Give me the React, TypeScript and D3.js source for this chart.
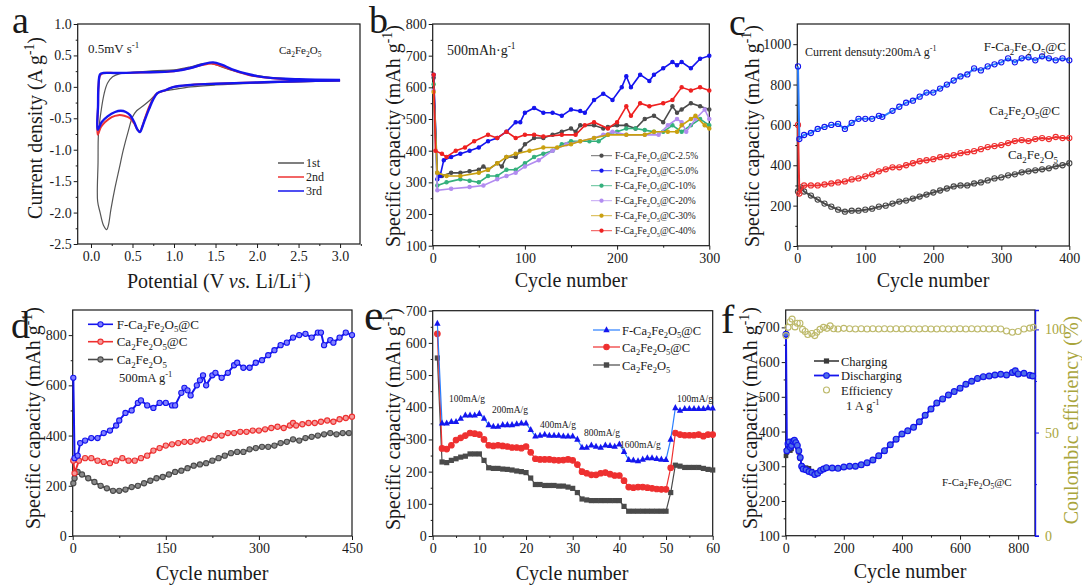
import { useEffect, useRef } from "react";
import * as d3 from "d3";

const serif = "'Liberation Serif', 'Times New Roman', serif";
const INK = "#1a1a1a";

// ---------- a: CV curves [potential V, current A/g]
const cv1st = [[3.0,0.1],[2.5,0.08],[2.0,0.06],[1.5,0.03],[1.2,0.0],[1.0,-0.04],[0.9,-0.06],[0.8,-0.1],[0.72,-0.2],[0.63,-0.3],[0.55,-0.38],[0.5,-0.48],[0.45,-0.7],[0.39,-1.0],[0.34,-1.3],[0.29,-1.6],[0.24,-1.95],[0.21,-2.2],[0.19,-2.27],[0.15,-2.2],[0.11,-2.0],[0.08,-1.82],
  [0.085,-1.2],[0.09,-0.75],[0.12,-0.4],[0.16,-0.1],[0.2,0.06],[0.26,0.16],[0.35,0.21],[0.5,0.23],[0.8,0.26],[1.0,0.27],[1.2,0.32],[1.35,0.37],[1.45,0.37],[1.55,0.33],[1.7,0.26],[1.9,0.2],[2.1,0.16],[2.5,0.12],[3.0,0.1]];
const cv2nd = [[3.0,0.1],[2.5,0.09],[2.0,0.07],[1.5,0.05],[1.2,0.03],[1.0,0.0],[0.9,-0.05],[0.8,-0.1],[0.75,-0.18],[0.7,-0.32],[0.65,-0.5],[0.62,-0.62],[0.59,-0.71],[0.56,-0.68],[0.52,-0.58],[0.47,-0.5],[0.4,-0.46],[0.33,-0.45],[0.25,-0.48],[0.17,-0.56],[0.12,-0.64],[0.08,-0.76],
  [0.085,-0.3],[0.09,0.0],[0.11,0.18],[0.15,0.22],[0.3,0.22],[0.6,0.23],[1.0,0.25],[1.2,0.3],[1.35,0.35],[1.45,0.37],[1.55,0.34],[1.7,0.27],[1.9,0.19],[2.1,0.15],[2.5,0.11],[3.0,0.1]];
const cv3rd = [[3.0,0.1],[2.5,0.09],[2.0,0.07],[1.5,0.05],[1.2,0.03],[1.0,0.0],[0.9,-0.05],[0.8,-0.1],[0.75,-0.2],[0.7,-0.35],[0.65,-0.52],[0.62,-0.63],[0.59,-0.72],[0.56,-0.68],[0.52,-0.56],[0.47,-0.45],[0.42,-0.4],[0.36,-0.38],[0.29,-0.4],[0.2,-0.47],[0.13,-0.56],[0.08,-0.68],
  [0.085,-0.3],[0.09,0.0],[0.11,0.2],[0.15,0.22],[0.3,0.22],[0.6,0.23],[1.0,0.25],[1.2,0.3],[1.35,0.36],[1.47,0.39],[1.58,0.35],[1.7,0.28],[1.9,0.2],[2.1,0.15],[2.5,0.12],[3.0,0.11]];

// ---------- b: carbon content, 500 mA/g [cycle, mAh/g]
const b25 = [[1,630],[5,330],[10,320],[20,330],[30,330],[40,335],[50,340],[55,350],[60,340],[70,360],[75,350],[80,380],[90,380],[95,400],[100,420],[110,440],[120,440],[130,450],[140,460],[150,470],[155,460],[160,480],[175,480],[185,470],[190,475],[200,480],[210,480],[220,470],[230,500],[240,510],[250,490],[260,540],[265,520],[270,530],[280,550],[290,540],[300,530]];
const b50 = [[1,640],[5,310],[8,320],[12,370],[20,380],[30,390],[40,400],[50,410],[60,430],[70,440],[80,460],[90,490],[95,490],[100,520],[110,535],[120,520],[130,520],[140,510],[150,530],[160,525],[165,520],[175,560],[185,580],[195,560],[205,600],[210,635],[215,600],[225,640],[235,620],[240,640],[250,660],[260,680],[265,670],[270,680],[280,660],[290,690],[300,700]];
const b10 = [[1,610],[5,290],[15,300],[30,310],[40,305],[50,300],[60,320],[70,320],[80,340],[90,340],[100,360],[110,380],[120,390],[130,400],[140,420],[150,430],[170,430],[180,430],[190,450],[200,460],[210,470],[220,470],[230,465],[240,460],[250,460],[260,480],[270,460],[280,480],[290,500],[300,480]];
const b20 = [[1,590],[5,275],[20,280],[40,285],[55,290],[70,310],[80,320],[90,330],[100,350],[115,370],[130,400],[145,420],[160,430],[175,440],[185,450],[195,460],[210,450],[230,450],[245,450],[255,480],[265,500],[270,490],[275,460],[285,500],[295,530],[300,500]];
const b30 = [[1,585],[5,330],[15,320],[30,320],[50,330],[60,340],[70,360],[80,380],[90,390],[105,400],[120,410],[135,410],[150,420],[160,430],[175,440],[190,450],[210,450],[230,450],[240,460],[255,460],[265,460],[270,480],[280,500],[285,510],[295,480],[300,470]];
const b40 = [[1,640],[3,400],[10,390],[15,380],[25,400],[35,410],[45,430],[60,450],[70,440],[80,460],[90,440],[100,450],[110,450],[120,445],[140,450],[155,450],[165,480],[175,490],[190,470],[200,490],[210,540],[215,510],[225,550],[235,540],[250,550],[260,560],[270,600],[280,590],[290,600],[300,590]];
const bNames = ["F-Ca_2Fe_2O_5@C-2.5%","F-Ca_2Fe_2O_5@C-5.0%","F-Ca_2Fe_2O_5@C-10%","F-Ca_2Fe_2O_5@C-20%","F-Ca_2Fe_2O_5@C-30%","F-Ca_2Fe_2O_5@C-40%"];
const bColors = ["#4a4a4a","#1414ee","#34b07c","#b28cf0","#c9a010","#ee2020"];

// ---------- c: 200 mA/g, 400 cycles
const cF = [[1,890],[3,530],[10,550],[20,560],[30,580],[40,590],[50,600],[60,605],[70,580],[80,610],[90,630],[100,630],[110,630],[120,645],[125,640],[140,670],[150,690],[160,710],[170,720],[180,740],[190,760],[200,760],[210,780],[220,800],[230,820],[240,840],[250,850],[260,880],[270,870],[280,890],[290,900],[300,910],[310,930],[320,910],[330,930],[340,935],[350,920],[360,940],[370,930],[380,920],[390,930],[400,920]];
const cC = [[1,600],[3,260],[10,300],[20,300],[30,300],[40,305],[50,310],[60,315],[70,320],[80,330],[90,335],[100,345],[110,355],[120,370],[130,380],[140,390],[150,390],[160,400],[170,410],[180,420],[190,425],[200,430],[210,440],[220,445],[230,450],[240,460],[250,465],[260,470],[270,480],[280,490],[290,495],[300,500],[310,510],[320,520],[330,525],[340,520],[350,530],[360,535],[370,530],[380,540],[390,535],[400,535]];
const cP = [[1,270],[5,290],[10,270],[20,250],[30,230],[40,210],[50,195],[60,180],[70,170],[80,175],[90,175],[100,180],[110,185],[120,195],[130,200],[140,210],[150,220],[160,225],[170,235],[180,245],[190,255],[200,265],[210,275],[220,285],[230,295],[240,300],[250,300],[260,310],[270,315],[280,325],[290,335],[300,340],[310,350],[320,355],[330,365],[340,370],[350,375],[360,380],[370,385],[380,395],[390,400],[400,410]];

// ---------- d: 500 mA/g, 450 cycles
const dF = [[1,630],[3,310],[8,320],[12,370],[20,380],[30,390],[40,390],[50,410],[60,420],[70,440],[75,460],[85,490],[95,500],[105,530],[110,540],[120,520],[130,510],[140,530],[150,530],[160,520],[165,520],[175,570],[180,590],[185,580],[190,560],[200,600],[205,620],[210,640],[215,600],[225,640],[230,650],[240,630],[250,650],[260,680],[265,690],[275,670],[285,670],[295,690],[305,700],[315,720],[325,740],[335,760],[345,770],[355,790],[365,800],[375,805],[385,790],[395,810],[400,810],[405,760],[415,780],[420,770],[430,790],[440,810],[450,800]];
const dC = [[1,300],[3,250],[10,300],[20,310],[30,310],[40,300],[50,295],[60,290],[70,300],[80,310],[90,300],[100,300],[110,310],[120,320],[130,340],[140,350],[150,360],[160,365],[170,370],[180,375],[190,375],[200,380],[210,385],[220,390],[230,400],[240,400],[250,410],[260,410],[270,415],[280,415],[290,420],[300,420],[310,425],[320,430],[330,435],[340,430],[350,440],[355,450],[360,440],[370,445],[380,450],[390,450],[400,455],[410,460],[420,455],[430,465],[440,470],[450,475]];
const dP = [[1,210],[3,230],[8,255],[15,245],[25,230],[35,215],[45,200],[55,190],[65,180],[75,180],[85,185],[95,195],[105,200],[115,210],[125,220],[135,230],[145,235],[155,245],[165,255],[175,260],[185,270],[195,280],[205,285],[215,290],[225,300],[235,310],[245,320],[255,330],[265,335],[275,335],[285,345],[295,350],[305,355],[315,355],[325,360],[335,370],[345,375],[355,385],[365,380],[375,390],[385,395],[395,400],[405,405],[415,410],[425,405],[435,410],[445,410]];

// ---------- e: rate performance, cycles 1..60
const eF = [660,350,350,355,355,365,375,375,375,380,365,345,340,340,345,345,345,348,350,350,330,310,312,315,312,312,312,310,310,310,300,275,275,282,278,275,282,280,278,285,262,237,235,233,238,242,242,240,238,237,300,398,390,395,395,395,395,395,398,397];
const eC = [628,272,270,282,298,305,312,320,318,315,300,282,280,282,280,278,275,275,273,278,260,240,238,238,238,236,235,236,238,235,222,200,195,190,190,195,197,192,188,188,172,152,150,152,152,150,148,146,145,145,212,320,315,313,313,313,315,310,315,315];
const eP = [553,230,228,235,240,245,248,255,255,255,235,212,210,210,208,207,205,202,200,197,180,160,160,157,157,157,155,155,152,148,135,115,112,110,110,110,110,110,110,110,92,77,77,77,77,77,77,77,77,77,135,220,217,213,213,213,213,210,207,205];
const eRates = [["100mA/g",449,402],["200mA/g",492,413],["400mA/g",540,428],["800mA/g",584,436],["1600mA/g",620,448],["100mA/g",677,402]];

// ---------- f: 1 A/g long cycling
const fDis = [[1,680],[4,345],[8,365],[12,370],[16,355],[20,360],[25,372],[30,375],[35,368],[40,360],[45,345],[50,325],[55,300],[60,292],[70,290],[80,285],[90,282],[100,276],[110,280],[120,288],[130,292],[140,296],[160,295],[180,294],[200,298],[220,300],[240,300],[260,304],[280,310],[300,318],[320,330],[340,345],[360,362],[380,378],[400,393],[420,402],[440,412],[460,428],[480,447],[500,465],[520,482],[540,494],[560,505],[580,515],[600,525],[620,536],[640,545],[660,553],[680,558],[700,560],[720,563],[740,565],[760,563],[780,570],[790,575],[800,566],[820,568],[840,562],[850,560]];
const fCha = [[1,330],[4,340],[8,352],[12,360],[16,345],[20,350],[25,365],[30,370],[35,362],[40,355],[45,340],[50,322],[55,302],[60,296],[70,296],[80,294],[90,286],[100,280],[110,282],[120,288],[130,292],[140,296],[160,294],[180,293],[200,297],[220,299],[240,299],[260,303],[280,309],[300,317],[320,329],[340,344],[360,361],[380,377],[400,392],[420,401],[440,411],[460,427],[480,446],[500,464],[520,481],[540,493],[560,504],[580,514],[600,524],[620,535],[640,544],[660,552],[680,557],[700,559],[720,562],[740,564],[760,562],[780,568],[790,572],[800,565],[820,566],[840,560],[850,558]];
const fEff = [[1,97],[8,101],[15,103.7],[22,105],[32,101.2],[40,103],[49,103],[58,100],[67,99],[76,97.5],[90,98],[100,97],[107,98.6],[118,100],[130,101],[142,100.5],[153,101.7],[165,100.3],[180,100.2],[200,100.5],[220,100.3],[240,100.2],[260,100.3],[280,100.2],[300,100.3],[320,100.2],[340,100.3],[360,100.2],[380,100.3],[400,100.2],[420,100.3],[440,100.2],[460,100.2],[480,100.3],[500,100.2],[520,100.2],[540,100.3],[560,100.2],[580,100.2],[600,100.3],[620,100.2],[640,100.3],[660,100.2],[680,100.3],[700,100.2],[720,100.3],[740,100.2],[760,99.2],[780,98.6],[800,99],[820,100.2],[840,100.6],[852,101]];

// "_x" / "_{..}" -> subscript, "^x" / "^{..}" -> superscript
function rich(sel, str, fs) {
  const re = /_\{([^}]*)\}|_(.)|\^\{([^}]*)\}|\^(.)/g;
  let last = 0, shift = 0, m;
  const push = (txt, kind) => {
    if (!txt) return;
    const t = sel.append("tspan").text(txt);
    let target = 0;
    if (kind === "sub") { target = fs * 0.28; t.attr("font-size", fs * 0.68); }
    if (kind === "sup") { target = -fs * 0.42; t.attr("font-size", fs * 0.68); }
    const dy = target - shift;
    if (dy !== 0) t.attr("dy", dy);
    shift = target;
  };
  while ((m = re.exec(str))) {
    push(str.slice(last, m.index), "n");
    if (m[1] !== undefined || m[2] !== undefined) push(m[1] ?? m[2], "sub");
    else push(m[3] ?? m[4], "sup");
    last = re.lastIndex;
  }
  push(str.slice(last), "n");
}

function label(g, x, y, str, fs, o: any = {}) {
  const t = g.append("text").attr("x", x).attr("y", y)
    .attr("font-size", fs).attr("font-family", serif)
    .attr("fill", o.fill || INK).attr("text-anchor", o.anchor || "start");
  if (o.rotate) t.attr("transform", `rotate(-90 ${x} ${y})`);
  rich(t, str, fs);
  return t;
}

function drawPanel(svg, p) {
  const x = d3.scaleLinear().domain(p.xd).range([p.l, p.r]);
  const y = d3.scaleLinear().domain(p.yd).range([p.b, p.t]);
  const g = svg.append("g");
  g.append("g").attr("transform", `translate(0,${p.b})`)
    .call(d3.axisBottom(x).tickValues(p.xt).tickSize(4).tickPadding(3).tickFormat(p.xf || ((v) => String(v))));
  g.append("g").attr("transform", `translate(0,${p.b})`)
    .call(d3.axisBottom(x).tickValues(p.xm).tickSize(2).tickFormat(() => ""));
  g.append("g").attr("transform", `translate(${p.l},0)`)
    .call(d3.axisLeft(y).tickValues(p.yt).tickSize(4).tickPadding(2).tickFormat(p.yf || ((v) => String(v))));
  g.append("g").attr("transform", `translate(${p.l},0)`)
    .call(d3.axisLeft(y).tickValues(p.ym).tickSize(2).tickFormat(() => ""));
  g.selectAll(".domain").remove();
  g.selectAll("text").attr("font-size", 14).attr("font-family", serif).attr("fill", INK);
  g.selectAll(".tick line").attr("stroke", INK);
  g.append("rect").attr("x", p.l).attr("y", p.t).attr("width", p.r - p.l).attr("height", p.b - p.t)
    .attr("fill", "none").attr("stroke", INK).attr("stroke-width", 1.2);
  return { x, y };
}

function series(svg, x, y, data, color, o: any = {}) {
  const line = d3.line().x((d) => x(d[0])).y((d) => y(d[1]));
  if (o.curve) line.curve(o.curve);
  svg.append("path").attr("d", line(data)).attr("fill", "none")
    .attr("stroke", o.lineColor || color).attr("stroke-width", o.lw || 1.2);
  if (o.marker) marks(svg, data.map((d) => [x(d[0]), y(d[1])]), o.marker, color, o);
}

function marks(svg, pts, kind, color, o: any = {}) {
  const r = o.r || 2.5;
  pts.forEach(([px, py]) => {
    if (kind === "dot" || kind === "ring" || kind === "circ") {
      svg.append("circle").attr("cx", px).attr("cy", py).attr("r", r)
        .attr("fill", kind === "dot" ? color : kind === "ring" ? "none" : o.fill || color)
        .attr("stroke", color).attr("stroke-width", o.sw || 1.1);
    } else if (kind === "square") {
      svg.append("rect").attr("x", px - r).attr("y", py - r).attr("width", 2 * r).attr("height", 2 * r).attr("fill", color);
    } else if (kind === "tri") {
      svg.append("path").attr("d", `M${px},${py - r * 1.2}L${px + r},${py + r * 0.7}L${px - r},${py + r * 0.7}Z`).attr("fill", color);
    }
  });
}

const App = () => {
  const ref = useRef(null);

  useEffect(() => {
    document.body.style.margin = "0";
    const svg = d3.select(ref.current);
    svg.selectAll("*").remove();
    svg.append("rect").attr("width", 1082).attr("height", 587).attr("fill", "#fff");

    // ---------------- a
    {
      const f1 = (v) => v.toFixed(1);
      const { x, y } = drawPanel(svg, { l: 77.7, r: 360, t: 24, b: 244, xd: [-0.16, 3.24], yd: [-2.5, 1.0],
        xt: [0, 0.5, 1, 1.5, 2, 2.5, 3], xm: [0.25, 0.75, 1.25, 1.75, 2.25, 2.75, 3.25],
        yt: [-2.5, -2, -1.5, -1, -0.5, 0, 0.5, 1], ym: [-2.25, -1.75, -1.25, -0.75, -0.25, 0.25, 0.75], xf: f1, yf: f1 });
      series(svg, x, y, cv1st, "#555", { lw: 1.2, curve: d3.curveCatmullRom });
      series(svg, x, y, cv2nd, "#ee3333", { lw: 2, curve: d3.curveCatmullRom });
      series(svg, x, y, cv3rd, "#1515ee", { lw: 2.4, curve: d3.curveCatmullRom });
      [["1st", "#555"], ["2nd", "#ee3333"], ["3rd", "#1515ee"]].forEach(([n, c], i) => {
        const yy = 163 + i * 14;
        svg.append("line").attr("x1", 278).attr("x2", 304).attr("y1", yy).attr("y2", yy).attr("stroke", c).attr("stroke-width", 1.5);
        label(svg, 306, yy + 4, n, 12);
      });
      label(svg, 88, 53, "0.5mV s^{-1}", 13);
      label(svg, 279, 54, "Ca_2Fe_2O_5", 11);
      label(svg, 42, 128, "Current density (A g^{-1})", 20, { rotate: true, anchor: "middle" });
      const px = svg.append("text").attr("x", 218.8).attr("y", 288).attr("font-size", 20)
        .attr("font-family", serif).attr("fill", INK).attr("text-anchor", "middle");
      px.append("tspan").text("Potential (V ");
      px.append("tspan").attr("font-style", "italic").text("vs.");
      px.append("tspan").text(" Li/Li");
      px.append("tspan").attr("font-size", 13).attr("dy", -8).text("+");
      px.append("tspan").attr("dy", 8).text(")");
      label(svg, 12, 33, "a", 38);
    }

    // ---------------- b
    {
      const { x, y } = drawPanel(svg, { l: 432.7, r: 709.3, t: 24, b: 245.7, xd: [0, 300], yd: [100, 800],
        xt: [0, 100, 200, 300], xm: [50, 150, 250], yt: [100, 200, 300, 400, 500, 600, 700, 800], ym: [150, 250, 350, 450, 550, 650, 750] });
      [b25, b50, b10, b20, b30, b40].forEach((s, i) => {
        series(svg, x, y, s, bColors[i], { lw: 1.6, marker: "dot", r: 1.7 });
      });
      bNames.forEach((n, i) => {
        const yy = 155.7 + i * 15;
        svg.append("line").attr("x1", 591).attr("x2", 612).attr("y1", yy).attr("y2", yy).attr("stroke", bColors[i]).attr("stroke-width", 0.8);
        marks(svg, [[601.5, yy]], "dot", bColors[i], { r: 1.6 });
        label(svg, 615, yy + 3.5, n, 9.5);
      });
      label(svg, 447, 55, "500mAh·g^{-1}", 14);
      label(svg, 400, 247, "Specific capacity (mAh g^{-1})", 20, { rotate: true });
      label(svg, 571, 287, "Cycle number", 20, { anchor: "middle" });
      label(svg, 369, 33, "b", 38);
    }

    // ---------------- c
    {
      const { x, y } = drawPanel(svg, { l: 797.3, r: 1069.3, t: 24, b: 246, xd: [0, 400], yd: [0, 1100],
        xt: [0, 100, 200, 300, 400], xm: [50, 150, 250, 350], yt: [0, 200, 400, 600, 800, 1000], ym: [100, 300, 500, 700, 900] });
      series(svg, x, y, cP, "#4a4a4a", { lw: 2, marker: "ring", r: 2.6 });
      series(svg, x, y, cC, "#ee3030", { lw: 2, marker: "ring", r: 2.6 });
      series(svg, x, y, cF, "#1515ee", { lw: 2, marker: "ring", r: 2.6, lineColor: "#2a7fff" });
      label(svg, 1066, 51, "F-Ca_2Fe_2O_5@C", 13, { anchor: "end" });
      label(svg, 1060, 115, "Ca_2Fe_2O_5@C", 13, { anchor: "end" });
      label(svg, 1058, 159, "Ca_2Fe_2O_5", 13, { anchor: "end" });
      label(svg, 805, 56, "Current densuty:200mA g^{-1}", 12);
      label(svg, 759, 247, "Specific capacity (mAh g^{-1})", 20, { rotate: true });
      label(svg, 933, 287, "Cycle number", 20, { anchor: "middle" });
      label(svg, 729, 35, "c", 38);
    }

    // ---------------- d
    {
      const { x, y } = drawPanel(svg, { l: 72.7, r: 352, t: 310, b: 536, xd: [0, 450], yd: [0, 900],
        xt: [0, 150, 300, 450], xm: [75, 225, 375], yt: [0, 200, 400, 600, 800], ym: [100, 300, 500, 700] });
      series(svg, x, y, dP, "#4a4a4a", { lw: 2, marker: "circ", r: 2.6, fill: "#8a8a8a" });
      series(svg, x, y, dC, "#ee3030", { lw: 2, marker: "circ", r: 2.6, fill: "#f49a9a" });
      series(svg, x, y, dF, "#1515ee", { lw: 2, marker: "circ", r: 2.6, fill: "#7f7fff" });
      [["F-Ca_2Fe_2O_5@C", "#1515ee", "#7f7fff"], ["Ca_2Fe_2O_5@C", "#ee3030", "#f49a9a"], ["Ca_2Fe_2O_5", "#4a4a4a", "#8a8a8a"]].forEach(([n, c, f], i) => {
        const yy = [324.3, 341.7, 359.5][i];
        svg.append("line").attr("x1", 88).attr("x2", 113).attr("y1", yy).attr("y2", yy).attr("stroke", c).attr("stroke-width", 1.6);
        marks(svg, [[100.5, yy]], "circ", c, { r: 2.6, fill: f });
        label(svg, 116.7, yy + 4.5, n, 13);
      });
      label(svg, 119, 382, "500mA g^{-1}", 12.5);
      label(svg, 40, 529, "Specific capacity (mAh g^{-1})", 20, { rotate: true });
      label(svg, 212, 580, "Cycle number", 20, { anchor: "middle" });
      label(svg, 11, 338, "d", 38);
    }

    // ---------------- e
    {
      const { x, y } = drawPanel(svg, { l: 432.7, r: 712.7, t: 310.7, b: 536, xd: [0, 60], yd: [0, 700],
        xt: [0, 10, 20, 30, 40, 50, 60], xm: [5, 15, 25, 35, 45, 55], yt: [0, 100, 200, 300, 400, 500, 600, 700], ym: [50, 150, 250, 350, 450, 550, 650] });
      const toPts = (arr) => arr.map((v, i) => [i + 1, v]);
      series(svg, x, y, toPts(eP), "#4a4a4a", { lw: 1.2, marker: "square", r: 2.6 });
      series(svg, x, y, toPts(eC), "#ee3030", { lw: 1.2, marker: "dot", r: 2.8 });
      series(svg, x, y, toPts(eF), "#1515ee", { lw: 1.2, marker: "tri", r: 3.2, lineColor: "#2a7fff" });
      [["F-Ca_2Fe_2O_5@C", "#1515ee", "tri", "#2a7fff"], ["Ca_2Fe_2O_5@C", "#ee3030", "dot", "#ee3030"], ["Ca_2Fe_2O_5", "#4a4a4a", "square", "#4a4a4a"]].forEach(([n, c, k, lc], i) => {
        const yy = [330, 347, 365][i];
        svg.append("line").attr("x1", 593).attr("x2", 620).attr("y1", yy).attr("y2", yy).attr("stroke", lc).attr("stroke-width", 1.2);
        marks(svg, [[606.5, yy]], k, c, { r: k === "tri" ? 3.2 : 2.7 });
        label(svg, 622, yy + 4.5, n, 12.5);
      });
      eRates.forEach(([n, lx, ly]) => label(svg, lx, ly, n, 9.5));
      label(svg, 400, 530, "Specific capacity (mAh g^{-1})", 20, { rotate: true });
      label(svg, 572, 580, "Cycle number", 20, { anchor: "middle" });
      label(svg, 364, 330, "e", 44);
    }

    // ---------------- f
    {
      const p = { l: 785.7, r: 1035, t: 310, b: 535.7, xd: [0, 858], yd: [100, 750],
        xt: [0, 200, 400, 600, 800], xm: [100, 300, 500, 700], yt: [100, 200, 300, 400, 500, 600, 700], ym: [150, 250, 350, 450, 550, 650] };
      const { x, y } = drawPanel(svg, p);
      const y2 = d3.scaleLinear().domain([0, 109.4]).range([p.b, p.t]);
      const ra = svg.append("g").attr("transform", `translate(${p.r},0)`)
        .call(d3.axisRight(y2).tickValues([0, 50, 100]).tickSize(4).tickPadding(6).tickFormat((v) => String(v)));
      svg.append("g").attr("transform", `translate(${p.r},0)`)
        .call(d3.axisRight(y2).tickValues([25, 75]).tickSize(2).tickFormat(() => "")).call((g) => g.select(".domain").remove())
        .selectAll("line").attr("stroke", "#1515ee");
      ra.select(".domain").attr("stroke", "#1515ee").attr("stroke-width", 1.4);
      ra.selectAll(".tick line").attr("stroke", "#1515ee");
      ra.selectAll("text").attr("font-size", 14).attr("font-family", serif).attr("fill", "#a9a53c");

      series(svg, x, y, fCha, "#3a3a3a", { lw: 1.5, marker: "square", r: 2.3 });
      series(svg, x, y, fDis, "#1515ee", { lw: 2, marker: "circ", r: 2.9, fill: "#4f6fe8", sw: 1.2 });
      marks(svg, fEff.map((d) => [x(d[0]), y2(d[1])]), "ring", "#bdb96a", { r: 3, sw: 1.1 });

      svg.append("line").attr("x1", 814).attr("x2", 839).attr("y1", 361).attr("y2", 361).attr("stroke", "#3a3a3a").attr("stroke-width", 1.6);
      marks(svg, [[826.5, 361]], "square", "#3a3a3a", { r: 2.6 });
      svg.append("line").attr("x1", 814).attr("x2", 839).attr("y1", 375.5).attr("y2", 375.5).attr("stroke", "#1515ee").attr("stroke-width", 1.8);
      marks(svg, [[826.5, 375.5]], "circ", "#1515ee", { r: 2.8, fill: "#4f6fe8" });
      marks(svg, [[826.5, 390]], "ring", "#bdb96a", { r: 3 });
      label(svg, 841, 365.5, "Charging", 12.5);
      label(svg, 841, 380, "Discharging", 12.5);
      label(svg, 841, 394.5, "Efficiency", 12.5);
      label(svg, 846, 410, "1 A g^{-1}", 12.5);
      label(svg, 942, 486, "F-Ca_2Fe_2O_5@C", 11);
      label(svg, 757, 529, "Specific capacity (mAh g^{-1})", 20, { rotate: true });
      label(svg, 1078, 420, "Coulombic efficiency (%)", 20, { rotate: true, anchor: "middle", fill: "#a9a53c" });
      label(svg, 910, 578, "Cycle number", 20, { anchor: "middle" });
      label(svg, 721, 333, "f", 40);
    }
  }, []);

  return <svg ref={ref} width={1082} height={587} style={{ display: "block" }} />;
};

export default App;
